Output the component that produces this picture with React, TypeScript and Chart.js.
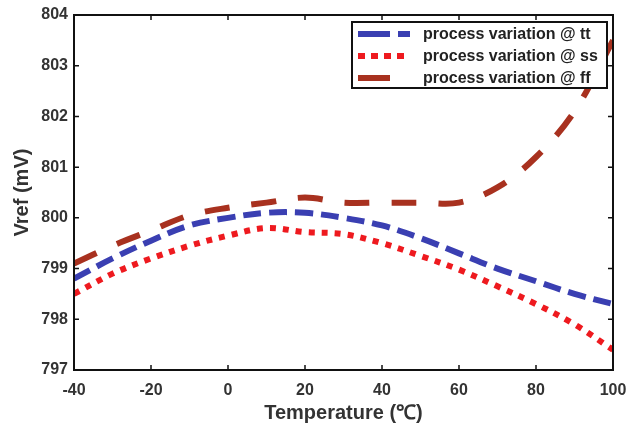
import React, { useEffect, useRef } from "react";
import { Chart, registerables } from "chart.js";

Chart.register(...registerables);

const temps = [-40, -30, -20, -10, 0, 10, 20, 30, 40, 50, 60, 70, 80, 90, 100];
const vrefTT = [798.8, 799.2, 799.55, 799.85, 800.0, 800.1, 800.1, 800.0, 799.85, 799.6, 799.3, 799.0, 798.75, 798.5, 798.3];
const vrefSS = [798.5, 798.9, 799.2, 799.45, 799.65, 799.8, 799.72, 799.68, 799.5, 799.25, 798.98, 798.65, 798.3, 797.9, 797.4];
const vrefFF = [799.1, 799.45, 799.75, 800.05, 800.2, 800.3, 800.4, 800.3, 800.3, 800.3, 800.3, 800.6, 801.2, 802.1, 803.5];
const seriesLabels = ["process variation @ tt", "process variation @ ss", "process variation @ ff"];
const xTicks = [-40, -20, 0, 20, 40, 60, 80, 100];
const yTicks = [797, 798, 799, 800, 801, 802, 803, 804];

const FONT = "'Liberation Sans', Arial, sans-serif";
const legendDashes = [[32, 8, 12, 100], [7, 6], [32, 100]];

const framePlugin = {
  id: "frame",
  afterDatasetsDraw(chart: any) {
    const { ctx, chartArea } = chart;
    const { left, right, top, bottom } = chartArea;
    const xs = chart.scales.x;
    const ys = chart.scales.y;
    ctx.save();
    ctx.strokeStyle = "#111";
    ctx.lineWidth = 2;
    ctx.setLineDash([]);
    ctx.strokeRect(left, top, right - left, bottom - top);
    ctx.lineWidth = 1.5;
    const tl = 5;
    ctx.beginPath();
    xTicks.forEach((v) => {
      const px = xs.getPixelForValue(v);
      ctx.moveTo(px, bottom);
      ctx.lineTo(px, bottom - tl);
      ctx.moveTo(px, top);
      ctx.lineTo(px, top + tl);
    });
    yTicks.forEach((v) => {
      const py = ys.getPixelForValue(v);
      ctx.moveTo(left, py);
      ctx.lineTo(left + tl, py);
      ctx.moveTo(right, py);
      ctx.lineTo(right - tl, py);
    });
    ctx.stroke();

    // legend box
    const bx = 352, by = 22, bw = 255, bh = 66;
    ctx.fillStyle = "#fff";
    ctx.fillRect(bx, by, bw, bh);
    ctx.lineWidth = 2;
    ctx.strokeStyle = "#111";
    ctx.strokeRect(bx, by, bw, bh);
    const rowsY = [34, 56, 78];
    chart.data.datasets.forEach((ds: any, i: number) => {
      const y = rowsY[i];
      ctx.save();
      ctx.strokeStyle = ds.borderColor;
      ctx.lineWidth = ds.borderWidth;
      ctx.setLineDash(legendDashes[i]);
      ctx.lineCap = "butt";
      ctx.beginPath();
      ctx.moveTo(358, y);
      ctx.lineTo(410, y);
      ctx.stroke();
      ctx.restore();
      ctx.fillStyle = "#222";
      ctx.font = `bold 16px ${FONT}`;
      ctx.textBaseline = "middle";
      ctx.textAlign = "left";
      ctx.fillText(ds.label, 423, y + 1);
    });
    ctx.restore();
  },
};

export default function App() {
  const ref = useRef<HTMLCanvasElement>(null);
  useEffect(() => {
    if (!ref.current) return;
    const chart = new Chart(ref.current, {
      type: "line",
      data: {
        labels: temps,
        datasets: [
          {
            label: seriesLabels[0],
            data: temps.map((t, i) => ({ x: t, y: vrefTT[i] })),
            borderColor: "#3a3fb2",
            borderWidth: 6,
            borderDash: [18, 8],
            pointRadius: 0,
            tension: 0.35,
            fill: false,
          },
          {
            label: seriesLabels[1],
            data: temps.map((t, i) => ({ x: t, y: vrefSS[i] })),
            borderColor: "#ee1a1f",
            borderWidth: 6,
            borderDash: [6, 7],
            pointRadius: 0,
            tension: 0.35,
            fill: false,
          },
          {
            label: seriesLabels[2],
            data: temps.map((t, i) => ({ x: t, y: vrefFF[i] })),
            borderColor: "#a8311f",
            borderWidth: 6,
            borderDash: [25, 22],
            pointRadius: 0,
            tension: 0.35,
            fill: false,
          },
        ],
      },
      options: {
        responsive: false,
        animation: false,
        layout: { padding: { left: 0, right: 17, top: 15, bottom: 0 } },
        plugins: { legend: { display: false }, tooltip: { enabled: false } },
        scales: {
          x: {
            type: "linear",
            min: -40,
            max: 100,
            grid: { display: false, drawTicks: false },
            border: { display: false },
            afterBuildTicks: (s: any) => {
              s.ticks = xTicks.map((v) => ({ value: v }));
            },
            afterFit: (s: any) => {
              s.height = 59;
              s.paddingLeft = 0;
              s.paddingRight = 0;
            },
            ticks: {
              padding: 11,
              color: "#333",
              font: { family: FONT, size: 16, weight: "bold" },
            },
            title: {
              display: true,
              text: "Temperature (℃)",
              color: "#333",
              font: { family: FONT, size: 20, weight: "bold" },
              padding: { top: 0, bottom: 4 },
            },
          },
          y: {
            min: 797,
            max: 804,
            grid: { display: false, drawTicks: false },
            border: { display: false },
            afterBuildTicks: (s: any) => {
              s.ticks = yTicks.map((v) => ({ value: v }));
            },
            afterFit: (s: any) => {
              s.width = 74;
              s.paddingTop = 0;
              s.paddingBottom = 0;
            },
            ticks: {
              padding: 6,
              color: "#333",
              font: { family: FONT, size: 16, weight: "bold" },
            },
            title: {
              display: true,
              text: "Vref (mV)",
              color: "#333",
              font: { family: FONT, size: 20, weight: "bold" },
              padding: { top: 10, bottom: 0 },
            },
          },
        },
      },
      plugins: [framePlugin],
    } as any);
    return () => chart.destroy();
  }, []);
  return (
    <div style={{ position: "fixed", left: 0, top: 0, width: 630, height: 429, background: "#fff" }}>
      <canvas ref={ref} width={630} height={429} style={{ display: "block" }} />
    </div>
  );
}
